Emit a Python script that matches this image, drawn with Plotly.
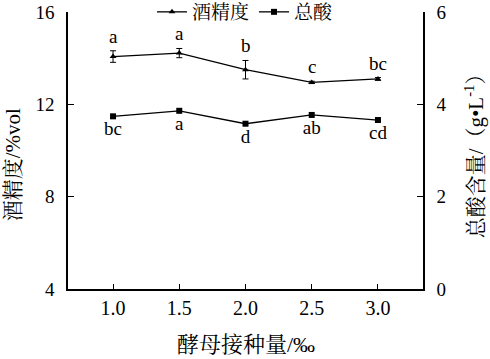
import plotly.graph_objects as go

inoculum = [1.0, 1.5, 2.0, 2.5, 3.0]
tick_labels = ["1.0", "1.5", "2.0", "2.5", "3.0"]
alcohol = [14.07, 14.22, 13.5, 12.95, 13.1]
alcohol_err = [0.25, 0.2, 0.4, 0.05, 0.06]
alcohol_letters = ["a", "a", "b", "c", "bc"]
acid = [3.74, 3.86, 3.58, 3.77, 3.66]
acid_letters = ["bc", "a", "d", "ab", "cd"]

FONT = "Times New Roman, Liberation Serif, Noto Serif CJK SC, Noto Sans CJK SC, serif"

fig = go.Figure()
fig.add_trace(go.Scatter(
    x=inoculum, y=alcohol, name="酒精度", mode="lines+markers",
    line=dict(color="black", width=1.3),
    marker=dict(symbol="triangle-up", size=6, color="black"),
    error_y=dict(type="data", array=alcohol_err, visible=True, color="black", thickness=1, width=3),
    yaxis="y",
))
fig.add_trace(go.Scatter(
    x=inoculum, y=acid, name="总酸", mode="lines+markers+text",
    text=acid_letters, textposition="bottom center",
    textfont=dict(size=19, color="black", family=FONT),
    line=dict(color="black", width=1.3),
    marker=dict(symbol="square", size=6, color="black"),
    yaxis="y2",
))

for x, y, e, t in zip(inoculum, alcohol, alcohol_err, alcohol_letters):
    fig.add_annotation(x=x, y=y + e, xref="x", yref="y", text=t, showarrow=False,
                       yanchor="bottom", yshift=2, font=dict(size=19, color="black", family=FONT))

title_font = dict(size=21, color="black", family=FONT)
fig.add_annotation(text="酒精度/%vol", xref="paper", yref="paper", x=-0.155, y=0.45,
                   textangle=-90, showarrow=False, xanchor="center", yanchor="middle", font=title_font)
fig.add_annotation(text="总酸含量/（g•L<sup>-1</sup>）", xref="paper", yref="paper", x=1.146, y=0.5,
                   textangle=-90, showarrow=False, xanchor="center", yanchor="middle", font=title_font)
fig.add_annotation(text="酵母接种量/‰", xref="paper", yref="paper", x=0.5, y=-0.202,
                   showarrow=False, xanchor="center", yanchor="middle",
                   font=dict(size=22, color="black", family=FONT))

fig.update_layout(
    width=490, height=359,
    margin=dict(l=68, r=67, t=12, b=70, autoexpand=False),
    paper_bgcolor="white", plot_bgcolor="white",
    font=dict(family=FONT, size=19, color="black"),
    showlegend=True,
    legend=dict(orientation="h", x=0.5, xanchor="center", y=1.0, yanchor="middle",
                bgcolor="white", font=dict(size=19), itemwidth=30, tracegroupgap=0),
    xaxis=dict(range=[0.66, 3.34], tickvals=inoculum, ticktext=tick_labels,
               ticks="inside", ticklen=5, tickwidth=1, tickcolor="black",
               tickfont=dict(size=20),
               showline=True, linecolor="black", linewidth=1.5, showgrid=False, zeroline=False),
    yaxis=dict(range=[4, 16], tickvals=[4, 8, 12, 16], ticks="inside", ticklen=6,
               tickcolor="black", tickfont=dict(size=19), ticklabelstandoff=8,
               showline=True, linecolor="black", linewidth=1.5,
               showgrid=False, zeroline=False),
    yaxis2=dict(range=[0, 6], tickvals=[0, 2, 4, 6], ticks="inside", ticklen=6,
                tickcolor="black", tickfont=dict(size=19), ticklabelstandoff=8,
                showline=True, linecolor="black", linewidth=1.5,
                showgrid=False, zeroline=False, overlaying="y", side="right"),
)

fig.write_html("out.html", config={"displayModeBar": False},
               post_script="document.body.style.margin='0';document.body.style.overflow='hidden';")
